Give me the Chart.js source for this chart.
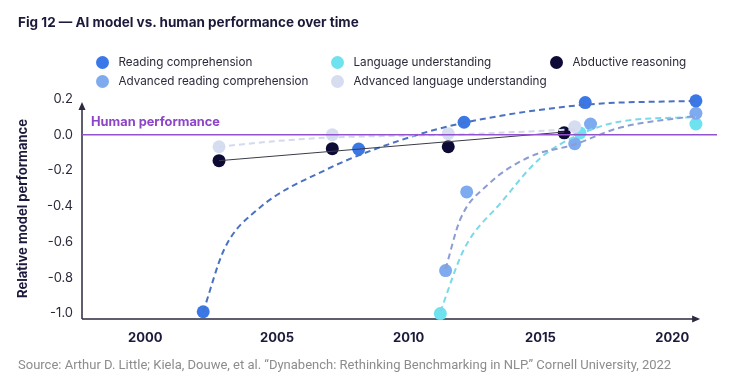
<!DOCTYPE html>
<html>
<head>
<meta charset="utf-8">
<script src="https://cdn.jsdelivr.net/npm/chart.js@4"></script>
<style>
  body { margin: 0; background: #fff; font-family: Inter, "Open Sans", sans-serif; }
  #wrap { position: relative; width: 750px; height: 389px; overflow: hidden; }
  #chart { position: absolute; left: 0; top: 0; }
  #title { position: absolute; left: 18px; top: 14px; font-size: 13.5px; font-weight: 700; color: #1b1a3b; white-space: nowrap; }
  .lg { position: absolute; display: flex; align-items: center; font-size: 11.7px; color: #2a2a3a; white-space: nowrap; height: 14px; }
  .lg .dot { width: 13px; height: 13px; border-radius: 50%; margin-right: 10px; flex: none; }
  #source { position: absolute; left: 18px; top: 357px; font-family: Roboto, sans-serif; font-size: 13px; color: #8c8c8c; white-space: nowrap; }
</style>
</head>
<body>
<div id="wrap">
  <canvas id="chart" width="750" height="389"></canvas>
  <div id="title">Fig 12 — AI model vs. human performance over time</div>
  <div id="legend"></div>
  <div id="source">Source: Arthur D. Little; Kiela, Douwe, et al. “Dynabench: Rethinking Benchmarking in NLP.” Cornell University, 2022</div>
</div>
<script>
// series names and colours
const seriesNames = ['Reading comprehension', 'Language understanding', 'Abductive reasoning',
                     'Advanced reading comprehension', 'Advanced language understanding'];
const pointColors = ['#3b78e7', '#6fe2ef', '#0d0b36', '#7eaaf0', '#d6ddf1'];
const lineColors  = ['#4a72c2', '#7ad9e8', '#3b3b48', '#8d9dd2', '#d3daee'];

// measured results (year, relative performance)
const readingYears = [2002.2, 2008.1, 2012.1, 2016.7, 2020.9];
const readingValues = [-0.99, -0.08, 0.07, 0.18, 0.19];
const langYears = [2011.2, 2016.5, 2020.9];
const langValues = [-1.0, 0.01, 0.06];
const abductiveYears = [2002.8, 2007.1, 2011.5, 2015.9];
const abductiveValues = [-0.145, -0.078, -0.067, 0.011];
const advReadingYears = [2011.4, 2012.2, 2016.3, 2016.9, 2020.9];
const advReadingValues = [-0.76, -0.32, -0.05, 0.06, 0.12];
const advLangYears = [2002.8, 2007.1, 2011.5, 2016.3];
const advLangValues = [-0.067, 0.0, 0.006, 0.045];

// trend lines
const readingTrendYears = [2002.2, 2003.0, 2004.25, 2006.8, 2009.7, 2012.1, 2016.7, 2020.9];
const readingTrendValues = [-0.99, -0.64, -0.42, -0.2, -0.03, 0.067, 0.168, 0.19];
const langTrendYears = [2011.2, 2012.1, 2013.5, 2015.0, 2016.55, 2018.0, 2020.9];
const langTrendValues = [-0.99, -0.64, -0.38, -0.13, 0.006, 0.073, 0.1];
const abductiveTrendYears = [2002.8, 2015.9];
const abductiveTrendValues = [-0.145, 0.015];
const advReadingTrendYears = [2011.4, 2011.95, 2013.0, 2014.6, 2016.25, 2018.0, 2020.9];
const advReadingTrendValues = [-0.75, -0.475, -0.28, -0.123, -0.056, 0.039, 0.106];
const advLangTrendYears = [2002.8, 2005.0, 2007.1, 2011.5, 2016.3];
const advLangTrendValues = [-0.067, -0.035, -0.015, 0.0, 0.03];

// human baseline
const humanYears = [1997.6, 2021.7];
const humanValues = [0, 0];
const humanLabel = 'Human performance';

// axes
const xTicks = [2000, 2005, 2010, 2015, 2020];
const yTicks = [-1.0, -0.8, -0.6, -0.4, -0.2, 0.0, 0.2];
const yTitle = 'Relative model performance';

const pts = (xs, ys) => xs.map((x, i) => ({ x: x, y: ys[i] }));

// HTML legend, 3 columns x 2 rows
const legendPos = [[102, 62], [337, 62], [556, 62], [102, 81], [337, 81]];
const legendEl = document.getElementById('legend');
seriesNames.forEach((name, i) => {
  const d = document.createElement('div');
  d.className = 'lg';
  d.style.left = (legendPos[i][0] - 6.5) + 'px';
  d.style.top = (legendPos[i][1] - 7) + 'px';
  d.innerHTML = '<span class="dot" style="background:' + pointColors[i] + '"></span>' + name;
  legendEl.appendChild(d);
});

function trend(xs, ys, i, dashed) {
  return {
    type: 'line', data: pts(xs, ys), borderColor: lineColors[i],
    borderWidth: dashed ? 2 : 1, borderDash: dashed ? [6, 4] : [],
    pointRadius: 0, cubicInterpolationMode: 'monotone', fill: false, clip: false
  };
}
function dots(xs, ys, i) {
  return {
    type: 'scatter', label: seriesNames[i], data: pts(xs, ys), clip: false,
    backgroundColor: pointColors[i], borderWidth: 0, pointRadius: 6.5, pointHoverRadius: 6.5
  };
}

// axis lines with arrow heads + baseline label
const axisPlugin = {
  id: 'axisArrows',
  beforeDatasetsDraw(chart) {
    const { ctx, chartArea } = chart;
    const x0 = chartArea.left, y0 = chartArea.bottom + 1;
    const xEnd = chart.scales.x.getPixelForValue(2021.06);
    const yEnd = chartArea.top + 3;
    ctx.save();
    ctx.strokeStyle = '#2b2a40';
    ctx.fillStyle = '#2b2a40';
    ctx.lineWidth = 1.5;
    ctx.beginPath();
    ctx.moveTo(x0, y0); ctx.lineTo(xEnd - 4, y0);
    ctx.moveTo(x0, y0); ctx.lineTo(x0, yEnd + 4);
    ctx.stroke();
    ctx.beginPath();
    ctx.moveTo(xEnd, y0); ctx.lineTo(xEnd - 8, y0 - 3.5); ctx.lineTo(xEnd - 8, y0 + 3.5); ctx.closePath();
    ctx.moveTo(x0, yEnd); ctx.lineTo(x0 - 3.5, yEnd + 8); ctx.lineTo(x0 + 3.5, yEnd + 8); ctx.closePath();
    ctx.fill();
    ctx.restore();
  },
  afterDatasetsDraw(chart) {
    const { ctx, chartArea } = chart;
    const y = chart.scales.y.getPixelForValue(0);
    ctx.save();
    ctx.font = 'bold 12.8px Inter, sans-serif';
    ctx.fillStyle = '#8e44c8';
    ctx.textBaseline = 'alphabetic';
    ctx.fillText(humanLabel, chartArea.left + 9, y - 9);
    ctx.restore();
  }
};

new Chart(document.getElementById('chart'), {
  data: {
    datasets: [
      { type: 'line', data: pts(humanYears, humanValues), borderColor: '#9452cf', borderWidth: 1.5, pointRadius: 0 },
      trend(advLangTrendYears, advLangTrendValues, 4, true),
      trend(abductiveTrendYears, abductiveTrendValues, 2, false),
      trend(readingTrendYears, readingTrendValues, 0, true),
      trend(advReadingTrendYears, advReadingTrendValues, 3, true),
      trend(langTrendYears, langTrendValues, 1, true),
      dots(advLangYears, advLangValues, 4),
      dots(abductiveYears, abductiveValues, 2),
      dots(readingYears, readingValues, 0),
      dots(advReadingYears, advReadingValues, 3),
      dots(langYears, langValues, 1)
    ]
  },
  options: {
    responsive: false,
    animation: false,
    layout: { padding: { top: 99, right: 33, bottom: 0, left: 0 } },
    plugins: { legend: { display: false }, tooltip: { enabled: false } },
    scales: {
      x: {
        type: 'linear', min: 1997.6, max: 2021.7,
        grid: { display: false, drawTicks: false }, border: { display: false },
        afterBuildTicks: s => { s.ticks = xTicks.map(v => ({ value: v })); },
        afterFit: s => { s.height = 71; },
        ticks: { padding: 12, color: '#1b1a3b', font: { family: 'Inter', size: 13, weight: 'bold' }, callback: v => String(v) }
      },
      y: {
        type: 'linear', min: -1.025, max: 0.2,
        grid: { display: false, drawTicks: false }, border: { display: false },
        afterBuildTicks: s => { s.ticks = yTicks.map(v => ({ value: v })); },
        afterFit: s => { s.width = 82; },
        title: { display: true, text: yTitle, color: '#1b1a3b', font: { family: 'Inter', size: 13, weight: 'bold' }, padding: { top: 15, bottom: 0 } },
        ticks: { padding: 9, color: '#2a2a3a', font: { family: 'Inter', size: 13 }, callback: v => v.toFixed(1) }
      }
    }
  },
  plugins: [axisPlugin]
});
</script>
</body>
</html>
